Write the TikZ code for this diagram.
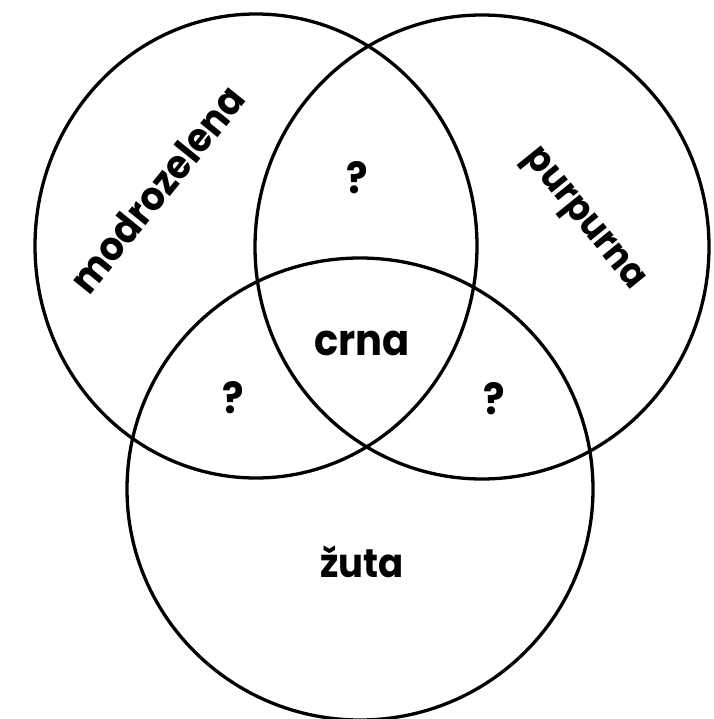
\documentclass[tikz,border=0pt]{standalone}
\usepackage{fontspec}
\setmainfont{Poppins}
\usetikzlibrary{positioning}

\begin{document}
\begin{tikzpicture}[
    x=1pt, y=-1pt,
    ring/.style={draw=black, line width=3.3pt},
    lbl/.style={font=\fontsize{#1}{#1}\selectfont\bfseries, inner sep=0pt, yscale=1.08}
]
    \useasboundingbox (0,0) rectangle (713,719);
    \draw[ring] (256,246) ellipse (221 and 232);
    \draw[ring] (482,247) ellipse (227 and 232);
    \draw[ring] (360,489) ellipse (233 and 231);

    \node[rotate=51, lbl=37] (cyan) at (157,189) {modrozelena};
    \node[rotate=-51, lbl=35] (magenta) at (582,221) {purpurna};
    \node[lbl=37] (yellow) at (362,562) {žuta};
    \node[lbl=40] (black) at (362,343) {crna};
    \node[lbl=40] (cm) at (357,178) {?};
    \node[lbl=40] (cy) at (233,398) {?};
    \node[lbl=40] (my) at (494,399) {?};
\end{tikzpicture}
\end{document}
